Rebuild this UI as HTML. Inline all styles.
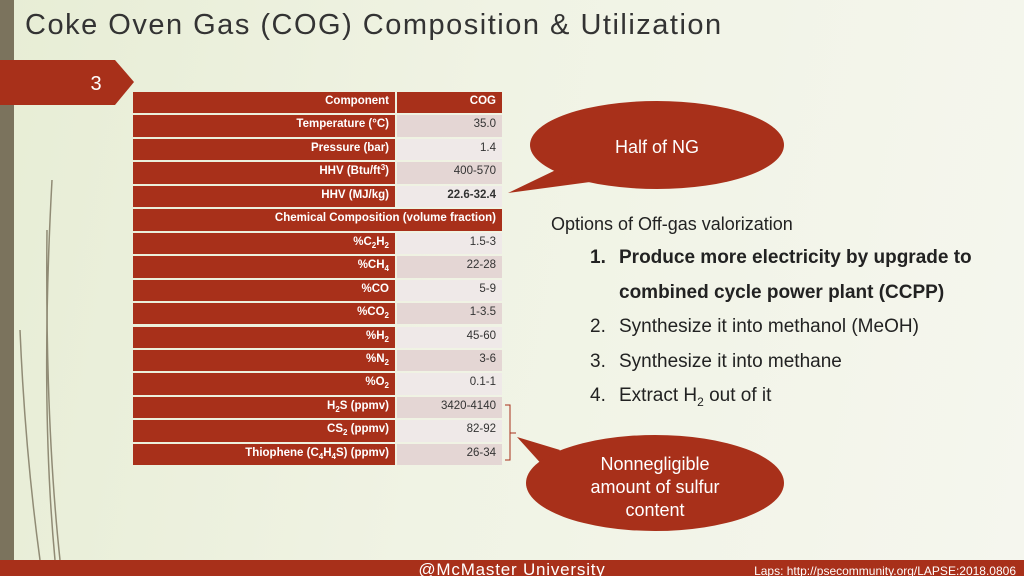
<!DOCTYPE html>
<html><head><meta charset="utf-8"><style>
html,body{margin:0;padding:0;width:1024px;height:576px;overflow:hidden;}
body{background:linear-gradient(100deg,#e7edd5 0%,#f0f3e4 45%,#f5f6ee 100%);font-family:"Liberation Sans",sans-serif;position:relative;}
.abs{position:absolute;}
.row{position:absolute;left:133px;width:369px;height:21.4px;}
.c{position:absolute;top:0;height:21.4px;line-height:19px;font-size:11.5px;text-align:right;box-sizing:border-box;padding:0 6px;white-space:nowrap;}
.c sub,.c sup{font-size:8px;line-height:0;}
.c sub{vertical-align:-3px}.c sup{vertical-align:4px}
</style></head><body>
<svg class="abs" style="left:0;top:0" width="1024" height="576">
 <rect x="0" y="0" width="14" height="576" fill="#7b735d"/>
 <g stroke="#7b735d" stroke-width="1.5" fill="none" opacity="0.8">
  <path d="M55 560 Q40 400 52 180"/><path d="M60 560 Q45 420 47 230"/><path d="M40 560 Q25 450 20 330"/>
 </g>
 <polygon points="0,60 115,60 134,82 115,105 0,105" fill="#a8301a"/>
 <text x="96" y="90" font-size="20" fill="#fff" text-anchor="middle" font-family="Liberation Sans">3</text>
 <rect x="0" y="560" width="1024" height="16" fill="#a8301a"/>
 <text x="512" y="575" font-size="17" fill="#fff" text-anchor="middle" font-family="Liberation Sans" letter-spacing="0.8">@McMaster University</text>
 <text x="1016" y="575" font-size="12" fill="#fff" text-anchor="end" font-family="Liberation Sans">Laps: http://psecommunity.org/LAPSE:2018.0806</text>
 <g>
  <polygon points="508,193 560,168 590,182" fill="#a8301a"/>
  <ellipse cx="657" cy="145" rx="127" ry="44" fill="#a8301a"/>
  <text x="657" y="153" font-size="18" fill="#fff" text-anchor="middle" font-family="Liberation Sans">Half of NG</text>
 </g>
 <g>
  <polygon points="517,437 560,450 545,468" fill="#a8301a"/>
  <ellipse cx="655" cy="483" rx="129" ry="48" fill="#a8301a"/>
  <text x="655" y="470" font-size="18" fill="#fff" text-anchor="middle" font-family="Liberation Sans">Nonnegligible</text>
  <text x="655" y="493" font-size="18" fill="#fff" text-anchor="middle" font-family="Liberation Sans">amount of sulfur</text>
  <text x="655" y="516" font-size="18" fill="#fff" text-anchor="middle" font-family="Liberation Sans">content</text>
 </g>
 <path d="M505 405 H510 V460 H505 M510 433 H516" stroke="#a8301a" fill="none" stroke-width="1"/>
</svg>
<div class="abs" style="left:25px;top:9px;font-size:29px;color:#333;letter-spacing:1.5px">Coke Oven Gas (COG) Composition &amp; Utilization</div>
<div id="tb"></div>
<div class="abs" style="left:551px;top:214px;font-size:18px;color:#222">Options of Off-gas valorization</div>
<div class="abs" style="left:590px;top:241px;font-size:19px;color:#222;line-height:34.5px">
 <div style="font-weight:bold"><span style="display:inline-block;width:29px">1.</span>Produce more electricity by upgrade to</div>
 <div style="font-weight:bold;padding-left:29px">combined cycle power plant (CCPP)</div>
 <div><span style="display:inline-block;width:29px">2.</span>Synthesize it into methanol (MeOH)</div>
 <div><span style="display:inline-block;width:29px">3.</span>Synthesize it into methane</div>
 <div><span style="display:inline-block;width:29px">4.</span>Extract H<sub style="font-size:12px;line-height:0">2</sub> out of it</div>
</div>
<script>
const labels=["Component","Temperature (°C)","Pressure (bar)","HHV (Btu/ft<sup>3</sup>)","HHV (MJ/kg)","Chemical Composition (volume fraction)","%C<sub>2</sub>H<sub>2</sub>","%CH<sub>4</sub>","%CO","%CO<sub>2</sub>","%H<sub>2</sub>","%N<sub>2</sub>","%O<sub>2</sub>","H<sub>2</sub>S (ppmv)","CS<sub>2</sub> (ppmv)","Thiophene (C<sub>4</sub>H<sub>4</sub>S) (ppmv)"];
const values=["COG","35.0","1.4","400-570","22.6-32.4",null,"1.5-3","22-28","5-9","1-3.5","45-60","3-6","0.1-1","3420-4140","82-92","26-34"];
const tb=document.getElementById('tb');
labels.forEach((l,i)=>{
 const r=document.createElement('div');
 r.className='row';
 
 
 r.style.top=(92+i*23.45)+'px';
 const a=document.createElement('div');
 a.className='c';
 a.innerHTML=l;
 a.style.cssText+='background:#a8301a;color:#fff;font-weight:bold;left:0;width:'+(values[i]===null?369:262)+'px;';
 r.appendChild(a);
 if(values[i]!==null){
  const b=document.createElement('div');
  b.className='c';
  b.innerHTML=values[i];
  b.style.cssText+='left:264px;width:105px;';
  if(i===0){b.style.cssText+='background:#a8301a;color:#fff;font-weight:bold;';}
  else{b.style.cssText+='background:'+(i%2?'#e4d6d4':'#efe9e8')+';color:#333;font-weight:'+(i===4?'bold':'normal')+';';}
  r.appendChild(b);
 }
 tb.appendChild(r);
});
</script>
</body></html>
